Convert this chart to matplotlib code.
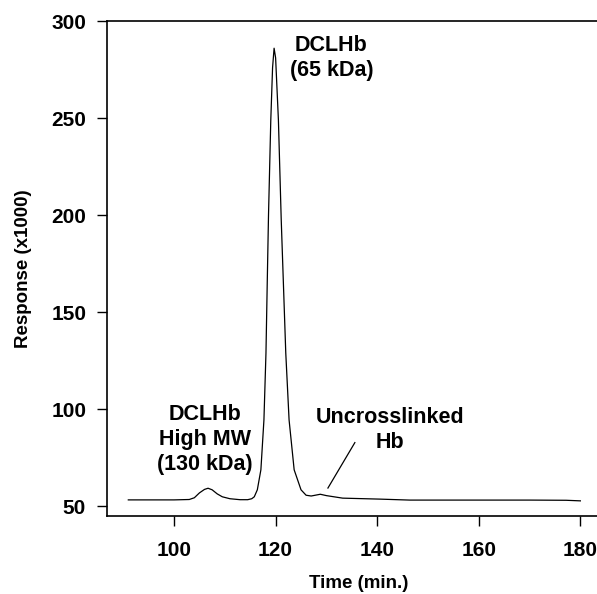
import matplotlib
matplotlib.use("Agg")
import matplotlib.pyplot as plt

plt.rcParams['font.family'] = ['Liberation Sans', 'DejaVu Sans']
plt.rcParams['font.weight'] = 'bold'

# chromatogram: time (min) and response (x1000)
time = [91, 95, 100, 103, 104, 105, 106, 106.7, 107.5, 108.5, 109.5, 111, 113, 114.5,
        115.3, 115.8, 116.4, 117.1, 117.7, 118.1, 118.35, 118.6, 119.05, 119.4, 119.7,
        120.0, 120.55, 121.1, 122.0, 122.65, 123.65, 125.0, 126.0, 127.0,
        128.8, 130.0, 133.2, 140.5, 146.4, 160, 170, 177.2, 180]
response = [53.4, 53.4, 53.4, 53.6, 54.5, 57.0, 58.8, 59.4, 58.6, 56.5, 55.0, 54.0, 53.5, 53.5,
            54.0, 55.0, 58.6, 68.9, 94.6, 129, 165, 200, 249, 276, 286,
            281, 249, 198, 129, 94.6, 68.9, 58.6, 55.8, 55.4,
            56.3, 55.6, 54.3, 53.8, 53.3, 53.3, 53.3, 53.2, 52.9]

xticks = [100, 120, 140, 160, 180]
yticks = [50, 100, 150, 200, 250, 300]

fig = plt.figure(figsize=(5.97, 5.94), dpi=100)
ax = fig.add_axes([0.1792, 0.1313, 0.844, 0.8333])
ax.plot(time, response, color='black', lw=0.9)

ax.set_xlim(86.8, 186)
ax.set_ylim(45.1, 300)
ax.set_xticks(xticks)
ax.set_yticks(yticks)
ax.tick_params(axis='both', direction='out', length=7, width=1.0, labelsize=15)
ax.tick_params(axis='x', pad=11)
ax.tick_params(axis='y', pad=8)
for s in ax.spines.values():
    s.set_linewidth(1.2)

ax.set_xlabel('Time (min.)', fontsize=13.5, fontweight='bold')
ax.set_ylabel('Response (x1000)', fontsize=13.5, fontweight='bold')
ax.xaxis.set_label_coords((359 - 107) / (0.844 * 597), -0.12)
ax.yaxis.set_label_coords(-(107 - 32) / (0.844 * 597), 0.5)

ax.text(131, 281, 'DCLHb\n(65 kDa)', ha='center', va='center', fontsize=15.5,
        fontweight='bold', linespacing=1.25)
ax.text(106, 84.3, 'DCLHb\nHigh MW\n(130 kDa)', ha='center', va='center', fontsize=15.5,
        fontweight='bold', linespacing=1.25)
ax.text(142.6, 89.5, 'Uncrosslinked\nHb', ha='center', va='center', fontsize=15.5,
        fontweight='bold', linespacing=1.25)
ax.plot([135.6, 130.3], [82.9, 59.5], color='black', lw=0.9)

fig.savefig('out.png', dpi=100)
